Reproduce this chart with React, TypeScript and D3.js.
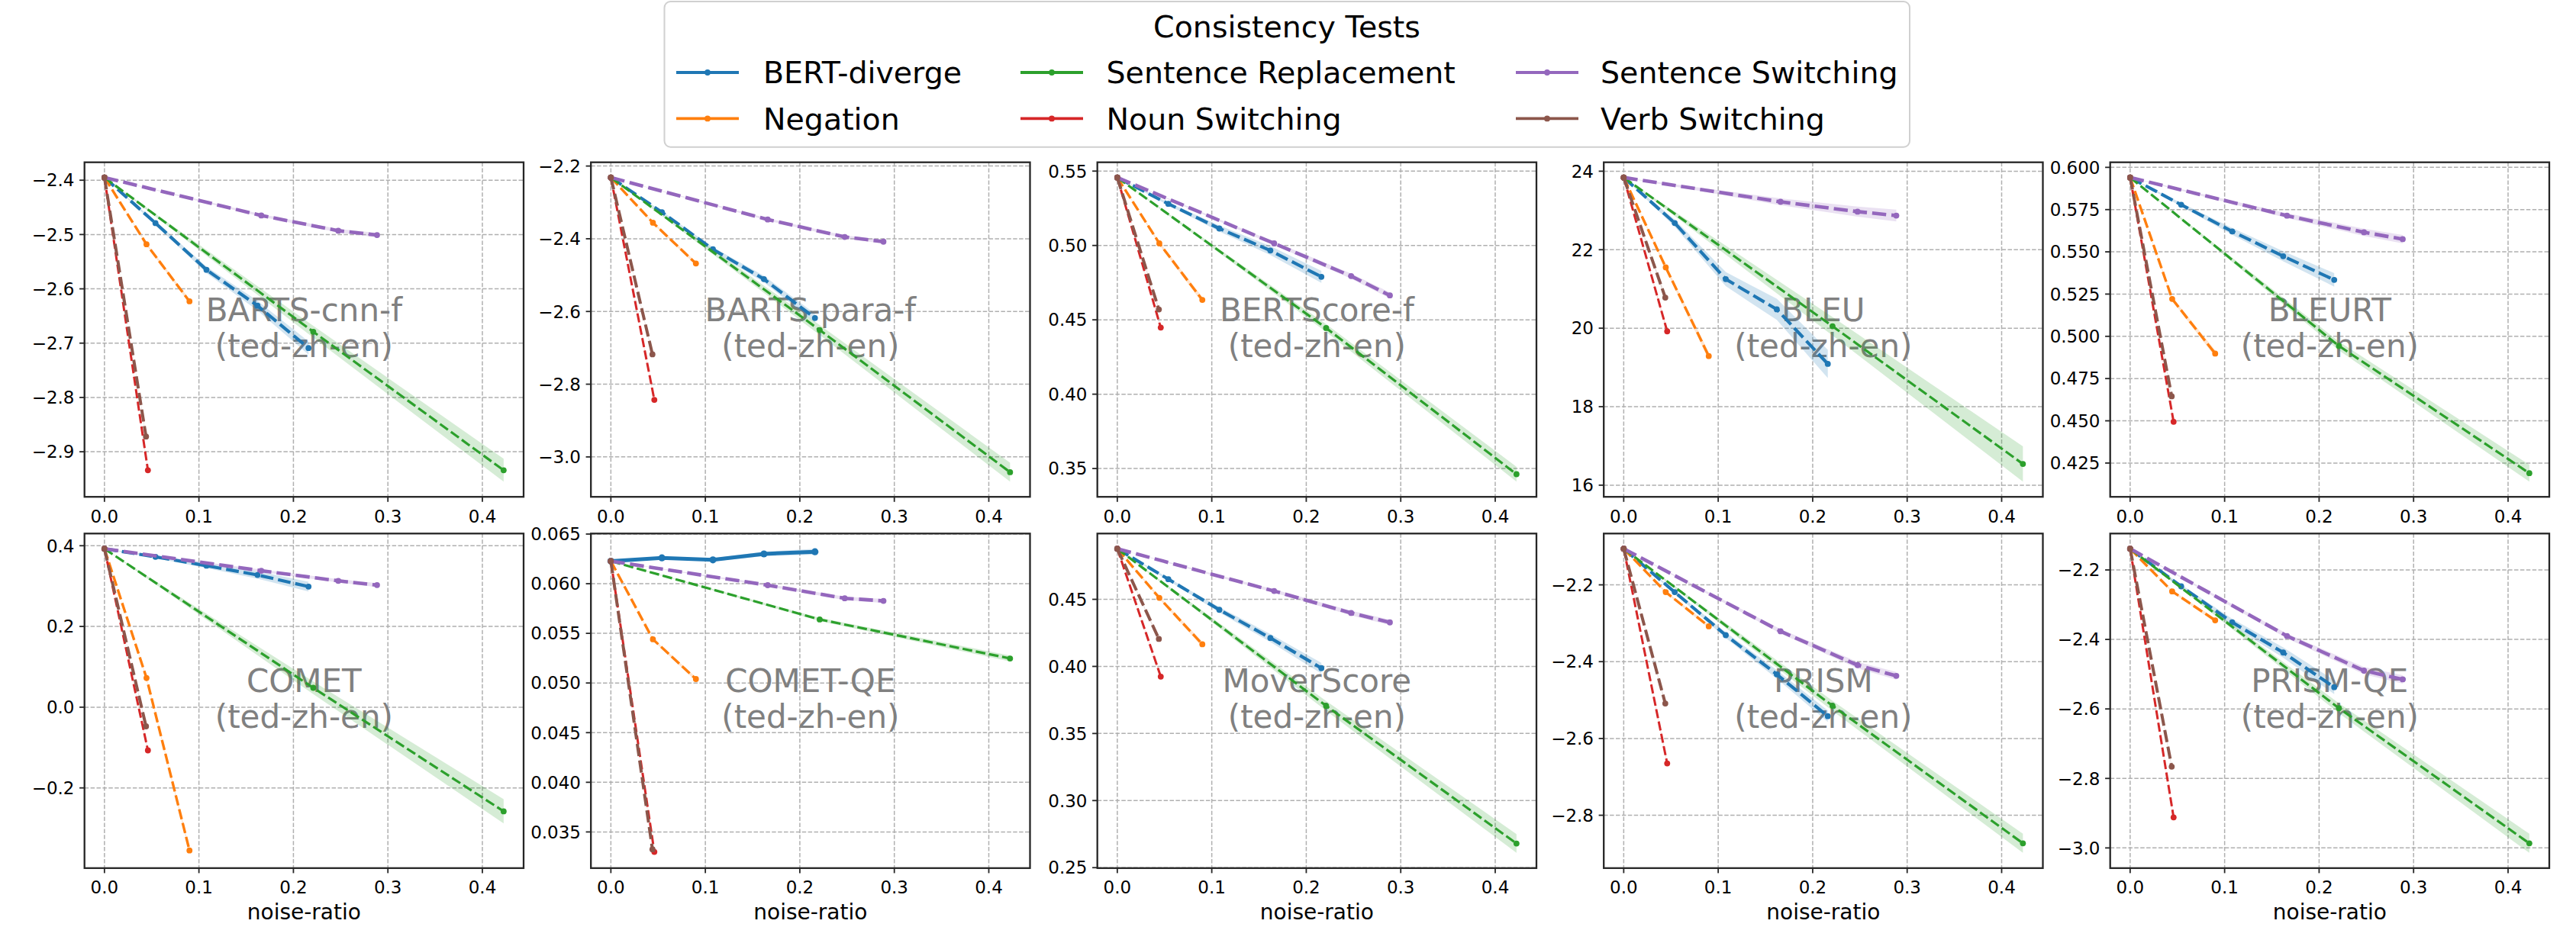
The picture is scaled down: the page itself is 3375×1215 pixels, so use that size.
import * as d3 from "d3";

// panel titles (metric names) and the dataset tag shown under each
const METRICS = [
  "BARTS-cnn-f", "BARTS-para-f", "BERTScore-f", "BLEU", "BLEURT",
  "COMET", "COMET-QE", "MoverScore", "PRISM", "PRISM-QE",
];
const DATASET = "(ted-zh-en)";

const SERIES_NAMES = [
  "BERT-diverge", "Negation", "Sentence Replacement",
  "Noun Switching", "Sentence Switching", "Verb Switching",
];
const COLORS = ["#1f77b4", "#ff7f0e", "#2ca02c", "#d62728", "#9467bd", "#8c564b"];
const LINE_W = [4.2, 3.4, 3.2, 3.0, 4.6, 4.0];

// noise ratios per consistency test
const X_BERT_DIVERGE = [0, 0.054, 0.108, 0.162, 0.216];
const X_NEGATION = [0, 0.0445, 0.09];
const X_SENT_REPLACE = [0, 0.221, 0.4225];
const X_NOUN_SWITCH = [0, 0.046];
const X_SENT_SWITCH = [0, 0.166, 0.2475, 0.2885];
const X_VERB_SWITCH = [0, 0.044];

// metric scores, one row per panel (same order as METRICS)
const Y_BERT_DIVERGE = [
  [-2.395, -2.479, -2.565, -2.631, -2.709],
  [-2.2315, -2.327, -2.429, -2.511, -2.618],
  [0.5457, 0.528, 0.5114, 0.4966, 0.4789],
  [23.84, 22.68, 21.25, 20.48, 19.09],
  [0.594, 0.5779, 0.5621, 0.5474, 0.5334],
  [0.3925, 0.3725, 0.3506, 0.3275, 0.2988],
  [0.06227, 0.0626, 0.0624, 0.063, 0.06322],
  [0.4877, 0.465, 0.4422, 0.4212, 0.3987],
  [-2.106, -2.219, -2.331, -2.433, -2.542],
  [-2.139, -2.2472, -2.3507, -2.4377, -2.5374],
];
const Y_NEGATION = [
  [-2.395, -2.518, -2.623],
  [-2.2315, -2.356, -2.468],
  [0.5457, 0.5014, 0.4634],
  [23.84, 21.55, 19.29],
  [0.594, 0.5221, 0.4898],
  [0.3925, 0.0725, -0.355],
  [0.06227, 0.0544, 0.0504],
  [0.4877, 0.4511, 0.4165],
  [-2.106, -2.219, -2.308],
  [-2.139, -2.2618, -2.345],
];
const Y_SENT_REPLACE = [
  [-2.395, -2.679, -2.934],
  [-2.2315, -2.651, -3.042],
  [0.5457, 0.4445, 0.3462],
  [23.84, 20.05, 16.54],
  [0.594, 0.4943, 0.419],
  [0.3925, 0.048, -0.258],
  [0.06227, 0.0564, 0.05247],
  [0.4877, 0.3706, 0.268],
  [-2.106, -2.515, -2.873],
  [-2.139, -2.5978, -2.9868],
];
const Y_NOUN_SWITCH = [
  [-2.395, -2.934],
  [-2.2315, -2.843],
  [0.5457, 0.4448],
  [23.84, 19.92],
  [0.594, 0.4494],
  [0.3925, -0.107],
  [0.06227, 0.03299],
  [0.4877, 0.3924],
  [-2.106, -2.665],
  [-2.139, -2.912],
];
const Y_SENT_SWITCH = [
  [-2.395, -2.465, -2.493, -2.501],
  [-2.2315, -2.347, -2.395, -2.408],
  [0.5457, 0.5014, 0.4794, 0.4664],
  [23.84, 23.22, 22.97, 22.87],
  [0.594, 0.5714, 0.5616, 0.5575],
  [0.3925, 0.338, 0.313, 0.3025],
  [0.06227, 0.05985, 0.05853, 0.05827],
  [0.4877, 0.4562, 0.4398, 0.4328],
  [-2.106, -2.321, -2.409, -2.437],
  [-2.139, -2.39, -2.4898, -2.515],
];
const Y_VERB_SWITCH = [
  [-2.395, -2.872],
  [-2.2315, -2.718],
  [0.5457, 0.457],
  [23.84, 20.78],
  [0.594, 0.4645],
  [0.3925, -0.0475],
  [0.06227, 0.03325],
  [0.4877, 0.4205],
  [-2.106, -2.509],
  [-2.139, -2.766],
];

// half-width of the confidence band at the last point of each series, per panel
const CI_BERT_DIVERGE = [0.012, 0.012, 0.004, 0.36, 0.004, 0.012, 0.0003, 0.004, 0.015, 0.02];
const CI_NEGATION = [0.004, 0.005, 0.002, 0.1, 0.002, 0.006, 0.0002, 0.002, 0.005, 0.006];
const CI_SENT_REPLACE = [0.021, 0.026, 0.005, 0.45, 0.005, 0.03, 0.0003, 0.007, 0.025, 0.0275];
const CI_NOUN_SWITCH = [0.003, 0.004, 0.001, 0.06, 0.001, 0.004, 0.0001, 0.001, 0.004, 0.004];
const CI_SENT_SWITCH = [0.004, 0.005, 0.002, 0.15, 0.0025, 0.005, 0.0002, 0.002, 0.01, 0.012];
const CI_VERB_SWITCH = [0.003, 0.004, 0.001, 0.06, 0.001, 0.004, 0.0001, 0.001, 0.004, 0.004];

// BERT-diverge is drawn solid where it rises (COMET-QE)
const SOLID_BERT_DIVERGE = [false, false, false, false, false, false, true, false, false, false];

const Y_TICKS = [
  [-2.4, -2.5, -2.6, -2.7, -2.8, -2.9],
  [-2.2, -2.4, -2.6, -2.8, -3.0],
  [0.55, 0.5, 0.45, 0.4, 0.35],
  [24, 22, 20, 18, 16],
  [0.6, 0.575, 0.55, 0.525, 0.5, 0.475, 0.45, 0.425],
  [0.4, 0.2, 0.0, -0.2],
  [0.065, 0.06, 0.055, 0.05, 0.045, 0.04, 0.035],
  [0.45, 0.4, 0.35, 0.3, 0.25],
  [-2.2, -2.4, -2.6, -2.8],
  [-2.2, -2.4, -2.6, -2.8, -3.0],
];
const X_TICKS = [0, 0.1, 0.2, 0.3, 0.4];

const XS = [X_BERT_DIVERGE, X_NEGATION, X_SENT_REPLACE, X_NOUN_SWITCH, X_SENT_SWITCH, X_VERB_SWITCH];
const YS = [Y_BERT_DIVERGE, Y_NEGATION, Y_SENT_REPLACE, Y_NOUN_SWITCH, Y_SENT_SWITCH, Y_VERB_SWITCH];
const CIS = [CI_BERT_DIVERGE, CI_NEGATION, CI_SENT_REPLACE, CI_NOUN_SWITCH, CI_SENT_SWITCH, CI_VERB_SWITCH];

const W = 3375;
const H = 1215;
const PANEL_LEFT = 110.7;
const PANEL_PITCH = 663.5;
const PANEL_W = 575.3;
const PANEL_H = 438.5;
const ROW_TOPS = [212.7, 699.3];
const FONT = "DejaVu Sans, sans-serif";
const TICK_FS = 23;
const TICK_LEN = 6.6;

interface Pt {
  x: number;
  y: number;
  ci: number;
}

function decimalsFor(ticks: number[]) {
  const step = Math.abs(ticks[1] - ticks[0]);
  for (let d = 0; d < 7; d++) {
    const v = step * 10 ** d;
    if (Math.abs(Math.round(v) - v) < 1e-6) return d;
  }
  return 6;
}

const fmt = (v: number, d: number) => {
  const s = v.toFixed(d);
  return /^-0(\.0+)?$/.test(s) ? s.slice(1) : s.replace("-", "\u2212");
};

function Panel({ idx }: { idx: number }) {
  const col = idx % 5;
  const row = Math.floor(idx / 5);
  const left = PANEL_LEFT + col * PANEL_PITCH;
  const top = ROW_TOPS[row];

  const series: Pt[][] = XS.map((xs, s) => {
    const vals = YS[s][idx];
    const last = xs[xs.length - 1];
    return xs.map((x, i) => ({ x, y: vals[i], ci: (CIS[s][idx] * x) / last }));
  });

  const all = series.flat();
  const xExt = d3.extent(all, (d) => d.x) as [number, number];
  const xPad = (xExt[1] - xExt[0]) * 0.05;
  const yLo = d3.min(all, (d) => d.y - d.ci)!;
  const yHi = d3.max(all, (d) => d.y + d.ci)!;
  const yPad = (yHi - yLo) * 0.05;

  const x = d3.scaleLinear().domain([xExt[0] - xPad, xExt[1] + xPad]).range([left, left + PANEL_W]);
  const y = d3.scaleLinear().domain([yLo - yPad, yHi + yPad]).range([top + PANEL_H, top]);

  const line = d3.line<Pt>().x((d) => x(d.x)).y((d) => y(d.y));
  const band = d3
    .area<Pt>()
    .x((d) => x(d.x))
    .y0((d) => y(d.y - d.ci))
    .y1((d) => y(d.y + d.ci));

  const yTicks = Y_TICKS[idx];
  const dec = decimalsFor(yTicks);
  const bottom = top + PANEL_H;
  const cx = left + PANEL_W / 2;

  return (
    <g>
      {/* grid */}
      {X_TICKS.map((t) => (
        <line key={`gx${t}`} x1={x(t)} x2={x(t)} y1={top} y2={bottom}
          stroke="#b0b0b0" strokeWidth={1.5} strokeDasharray="5.5 2.4" />
      ))}
      {yTicks.map((t) => (
        <line key={`gy${t}`} x1={left} x2={left + PANEL_W} y1={y(t)} y2={y(t)}
          stroke="#b0b0b0" strokeWidth={1.5} strokeDasharray="5.5 2.4" />
      ))}

      {/* watermark title */}
      <text x={cx} y={top + 208} textAnchor="middle" fontSize={42} fill="#808080" fontFamily={FONT}>
        {METRICS[idx]}
      </text>
      <text x={cx} y={top + 255} textAnchor="middle" fontSize={42} fill="#808080" fontFamily={FONT}>
        {DATASET}
      </text>

      {series.map((pts, s) => {
        const solid = s === 0 && SOLID_BERT_DIVERGE[idx];
        const lw = solid ? 5 : LINE_W[s];
        return (
          <g key={s}>
            <path d={band(pts) ?? ""} fill={COLORS[s]} fillOpacity={0.2} stroke="none" />
            <path d={line(pts) ?? ""} fill="none" stroke={COLORS[s]} strokeWidth={lw}
              strokeDasharray={solid ? undefined : `${4 * lw} ${1.5 * lw}`} />
            {pts.map((p, i) => (
              <circle key={i} cx={x(p.x)} cy={y(p.y)} r={solid ? 4.6 : 3.9} fill={COLORS[s]} />
            ))}
          </g>
        );
      })}

      {/* spines */}
      <rect x={left} y={top} width={PANEL_W} height={PANEL_H} fill="none" stroke="#262626" strokeWidth={2.3} />

      {/* y ticks */}
      {yTicks.map((t) => (
        <g key={`ty${t}`}>
          <line x1={left - TICK_LEN} x2={left} y1={y(t)} y2={y(t)} stroke="#262626" strokeWidth={1.8} />
          <text x={left - TICK_LEN - 6.6} y={y(t)} dy="0.36em" textAnchor="end"
            fontSize={TICK_FS} fontFamily={FONT} fill="#000">
            {fmt(t, dec)}
          </text>
        </g>
      ))}

      {/* x ticks */}
      {X_TICKS.map((t) => (
        <g key={`tx${t}`}>
          <line x1={x(t)} x2={x(t)} y1={bottom} y2={bottom + TICK_LEN} stroke="#262626" strokeWidth={1.8} />
          <text x={x(t)} y={bottom + 33.5} textAnchor="middle" fontSize={TICK_FS} fontFamily={FONT} fill="#000">
            {t.toFixed(1)}
          </text>
        </g>
      ))}

      {row === 1 && (
        <text x={cx} y={bottom + 67} textAnchor="middle" fontSize={28} fontFamily={FONT} fill="#000">
          noise-ratio
        </text>
      )}
    </g>
  );
}

function Legend() {
  const colText = [1000, 1449.5, 2097];
  const colHandle = [886, 1337, 1986];
  const rowY = [95, 155.4];
  return (
    <g fontFamily={FONT}>
      <rect x={870.5} y={2} width={1631.5} height={190.7} rx={8} fill="#fff"
        stroke="#d0d0d0" strokeWidth={2} />
      <text x={1686} y={48.7} textAnchor="middle" fontSize={39.5} fill="#000">
        Consistency Tests
      </text>
      {SERIES_NAMES.map((name, s) => {
        const c = Math.floor(s / 2);
        const r = s % 2;
        const hy = rowY[r];
        return (
          <g key={name}>
            <line x1={colHandle[c]} x2={colHandle[c] + 82} y1={hy} y2={hy}
              stroke={COLORS[s]} strokeWidth={3.8} />
            <circle cx={colHandle[c] + 41} cy={hy} r={3.9} fill={COLORS[s]} />
            <text x={colText[c]} y={hy} dy="0.36em" fontSize={39.5} fill="#000">
              {name}
            </text>
          </g>
        );
      })}
    </g>
  );
}

export default function App() {
  return (
    <div style={{ width: W, height: H, background: "#fff" }}>
      <style>{"body{margin:0;background:#fff}"}</style>
      <svg width={W} height={H} viewBox={`0 0 ${W} ${H}`} style={{ display: "block" }}>
        <rect width={W} height={H} fill="#fff" />
        {METRICS.map((_, i) => (
          <Panel key={i} idx={i} />
        ))}
        <Legend />
      </svg>
    </div>
  );
}
